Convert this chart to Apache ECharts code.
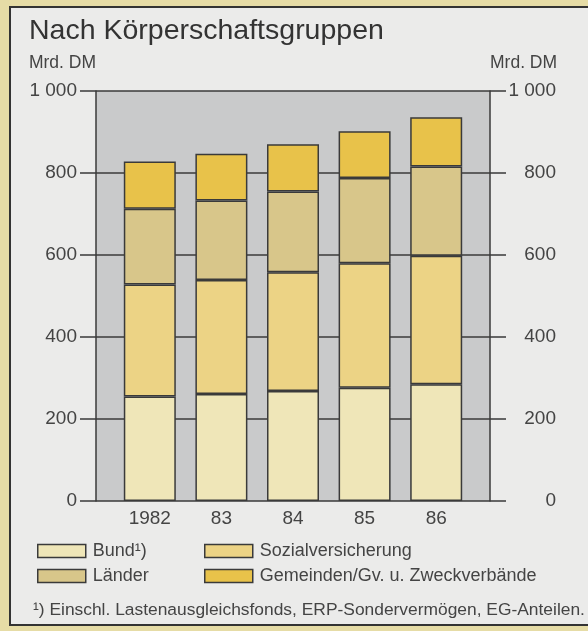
<!DOCTYPE html>
<html>
<head>
<meta charset="utf-8">
<script src="https://cdn.jsdelivr.net/npm/echarts@6/dist/echarts.min.js"></script>
<style>
  html, body { margin: 0; padding: 0; background: #e6dca6; }
  .panel {
    position: absolute; left: 9px; top: 6px; width: 600px; height: 620px;
    border: 2px solid #333; background: #ebebea; box-sizing: border-box;
  }
  #chart { position: absolute; left: 0; top: 0; width: 588px; height: 631px; }
</style>
</head>
<body>
<div class="panel"></div>
<div id="chart"></div>
<script>
const years = ['1982', '83', '84', '85', '86'];
const bund = [255, 261, 268, 276, 285];
const sozial = [273, 278, 290, 304, 313];
const laender = [185, 194, 197, 208, 218];
const gemeinden = [115, 114, 115, 114, 120];
const yTicks = { min: 0, max: 1000, interval: 200 };

const ink = '#3a3a3a';
const font = 'Liberation Sans, Arial, sans-serif';
const colors = { bund: '#efe6b8', sozial: '#ecd385', laender: '#d8c68a', gemeinden: '#e8c24a' };

function fmtTick(v) {
  return v >= 1000 ? String(v).replace(/(\d)(\d{3})$/, '$1 $2') : String(v);
}

const valueAxis = (pos) => ({
  type: 'value',
  gridIndex: 0,
  position: pos,
  min: yTicks.min, max: yTicks.max, interval: yTicks.interval,
  name: 'Mrd. DM',
  nameLocation: 'end',
  nameGap: 19,
  nameTextStyle: { fontFamily: font, fontSize: 17.5, color: '#444', align: pos === 'left' ? 'right' : 'left' },
  axisLine: { show: true, lineStyle: { color: ink, width: 1.5 } },
  axisTick: { show: true, length: 16, lineStyle: { color: ink, width: 1.5 } },
  splitLine: { show: pos === 'left', lineStyle: { color: ink, width: 1.5 } },
  axisLabel: {
    fontFamily: font, fontSize: 19, color: '#444',
    margin: pos === 'left' ? 19 : 66, align: 'right',
    formatter: fmtTick,
  },
});

const bar = (name, data, color) => ({
  name, type: 'bar', stack: 'total', data,
  xAxisIndex: 1, yAxisIndex: 2,
  barWidth: 52,
  itemStyle: { color, borderColor: ink, borderWidth: 1.5 },
});

const legendBase = {
  orient: 'vertical',
  top: 537,
  itemWidth: 48,
  itemHeight: 13,
  itemGap: 7,
  icon: 'rect',
  itemStyle: { borderColor: ink, borderWidth: 1.5 },
  textStyle: { fontFamily: font, fontSize: 18, color: '#444', padding: [0, 0, 0, 2] },
};

const chart = echarts.init(document.getElementById('chart'));
chart.setOption({
  animation: false,
  backgroundColor: 'transparent',
  title: {
    text: 'Nach Körperschaftsgruppen',
    left: 29, top: 17, padding: 0,
    textStyle: { fontFamily: font, fontSize: 28.5, fontWeight: 'normal', color: '#333' },
  },
  grid: [
    { left: 96, top: 91, width: 394, height: 410, show: true, backgroundColor: '#c9cacb', borderWidth: 0 },
    { left: 114, top: 91, width: 358, height: 410 },
  ],
  xAxis: [
    { type: 'category', gridIndex: 0, data: years, show: false },
    {
      type: 'category', gridIndex: 1, data: years,
      axisLine: { show: false }, axisTick: { show: false },
      axisLabel: { fontFamily: font, fontSize: 19, color: '#444', margin: 8 },
    },
  ],
  yAxis: [
    valueAxis('left'),
    valueAxis('right'),
    { type: 'value', gridIndex: 1, min: yTicks.min, max: yTicks.max, show: false },
  ],
  legend: [
    { ...legendBase, left: 32, data: ['Bund¹)', 'Länder'] },
    { ...legendBase, left: 199, data: ['Sozialversicherung', 'Gemeinden/Gv. u. Zweckverbände'] },
  ],
  graphic: [
    {
      type: 'text', left: 33, top: 602,
      style: {
        text: '¹) Einschl. Lastenausgleichsfonds, ERP-Sondervermögen, EG-Anteilen.',
        fontFamily: font, fontSize: 17.4, fill: '#444',
      },
    },
  ],
  series: [
    bar('Bund¹)', bund, colors.bund),
    bar('Sozialversicherung', sozial, colors.sozial),
    bar('Länder', laender, colors.laender),
    bar('Gemeinden/Gv. u. Zweckverbände', gemeinden, colors.gemeinden),
  ],
});
</script>
</body>
</html>
